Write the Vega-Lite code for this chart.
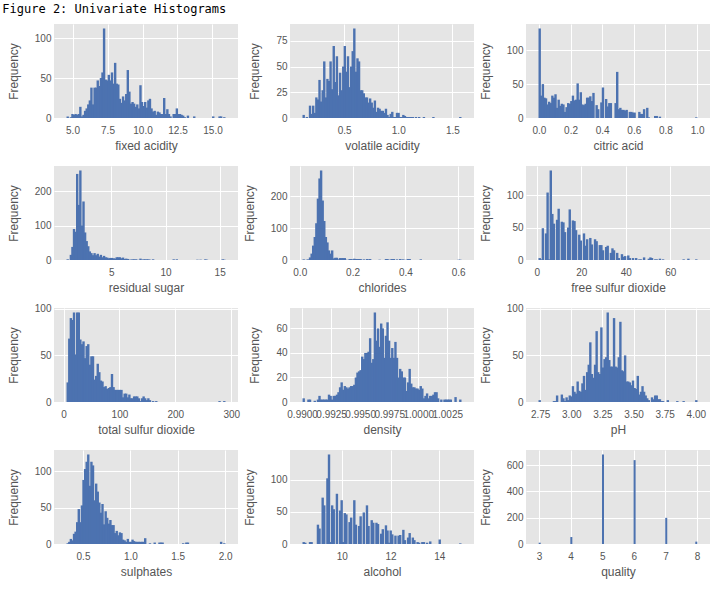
{
"$schema": "https://vega.github.io/schema/vega-lite/v6.json",
"title": {"text": "Figure 2: Univariate Histograms", "anchor": "start", "font": "DejaVu Sans Mono", "fontSize": 12, "fontWeight": "normal", "color": "#000000", "offset": 8, "dx": -5},
"padding": {"left": 2, "top": 3, "right": 5, "bottom": 5},
"columns": 3,
"spacing": {"row": 48, "column": 52},
"bounds": "flush",
"datasets": {
"fa": [{"x":4.657,"n":2},{"x":4.883,"n":1},{"x":4.996,"n":5},{"x":5.109,"n":4},{"x":5.222,"n":5},{"x":5.335,"n":4},{"x":5.448,"n":5},{"x":5.561,"n":14},{"x":5.674,"n":2},{"x":5.787,"n":4},{"x":5.900,"n":9},{"x":6.013,"n":12},{"x":6.126,"n":17},{"x":6.239,"n":22},{"x":6.352,"n":38},{"x":6.465,"n":17},{"x":6.578,"n":38},{"x":6.691,"n":38},{"x":6.804,"n":47},{"x":6.917,"n":40},{"x":7.030,"n":50},{"x":7.143,"n":57},{"x":7.256,"n":112},{"x":7.369,"n":48},{"x":7.482,"n":47},{"x":7.595,"n":54},{"x":7.708,"n":47},{"x":7.821,"n":57},{"x":7.934,"n":43},{"x":8.047,"n":69},{"x":8.160,"n":43},{"x":8.273,"n":42},{"x":8.386,"n":24},{"x":8.499,"n":19},{"x":8.612,"n":27},{"x":8.725,"n":22},{"x":8.838,"n":30},{"x":8.951,"n":60},{"x":9.064,"n":33},{"x":9.177,"n":18},{"x":9.290,"n":20},{"x":9.403,"n":18},{"x":9.516,"n":14},{"x":9.629,"n":17},{"x":9.742,"n":12},{"x":9.855,"n":41},{"x":9.968,"n":20},{"x":10.081,"n":15},{"x":10.194,"n":20},{"x":10.307,"n":13},{"x":10.420,"n":22},{"x":10.533,"n":24},{"x":10.646,"n":12},{"x":10.759,"n":8},{"x":10.872,"n":9},{"x":10.985,"n":4},{"x":11.098,"n":8},{"x":11.211,"n":7},{"x":11.324,"n":5},{"x":11.437,"n":5},{"x":11.550,"n":25},{"x":11.663,"n":5},{"x":11.776,"n":11},{"x":11.889,"n":5},{"x":12.002,"n":2},{"x":12.228,"n":5},{"x":12.341,"n":5},{"x":12.454,"n":12},{"x":12.567,"n":5},{"x":12.680,"n":5},{"x":12.793,"n":4},{"x":12.906,"n":3},{"x":13.019,"n":1},{"x":13.245,"n":3},{"x":13.697,"n":2},{"x":15.053,"n":2},{"x":15.505,"n":2},{"x":15.618,"n":2},{"x":15.844,"n":1}],
"va": [{"x":0.1273,"n":3},{"x":0.1565,"n":1},{"x":0.1857,"n":12},{"x":0.2003,"n":4},{"x":0.2149,"n":12},{"x":0.2295,"n":5},{"x":0.2441,"n":20},{"x":0.2587,"n":18},{"x":0.2733,"n":37},{"x":0.2879,"n":16},{"x":0.3025,"n":27},{"x":0.3171,"n":55},{"x":0.3317,"n":20},{"x":0.3463,"n":38},{"x":0.3609,"n":36},{"x":0.3755,"n":55},{"x":0.3901,"n":28},{"x":0.4047,"n":70},{"x":0.4193,"n":35},{"x":0.4339,"n":60},{"x":0.4485,"n":22},{"x":0.4631,"n":44},{"x":0.4777,"n":27},{"x":0.4923,"n":50},{"x":0.5069,"n":70},{"x":0.5215,"n":45},{"x":0.5361,"n":60},{"x":0.5507,"n":30},{"x":0.5653,"n":50},{"x":0.5799,"n":65},{"x":0.5945,"n":87},{"x":0.6091,"n":45},{"x":0.6237,"n":58},{"x":0.6383,"n":55},{"x":0.6529,"n":27},{"x":0.6675,"n":27},{"x":0.6821,"n":24},{"x":0.6967,"n":20},{"x":0.7113,"n":20},{"x":0.7259,"n":15},{"x":0.7405,"n":19},{"x":0.7551,"n":15},{"x":0.7697,"n":10},{"x":0.7843,"n":17},{"x":0.7989,"n":6},{"x":0.8135,"n":10},{"x":0.8281,"n":9},{"x":0.8427,"n":7},{"x":0.8573,"n":7},{"x":0.8719,"n":5},{"x":0.8865,"n":9},{"x":0.9011,"n":3},{"x":0.9157,"n":1},{"x":0.9303,"n":4},{"x":0.9449,"n":6},{"x":0.9595,"n":1},{"x":0.9741,"n":1},{"x":0.9887,"n":5},{"x":1.0033,"n":5},{"x":1.0179,"n":1},{"x":1.0325,"n":1},{"x":1.0471,"n":3},{"x":1.0617,"n":2},{"x":1.0763,"n":1},{"x":1.0909,"n":1},{"x":1.1055,"n":1},{"x":1.1201,"n":1},{"x":1.1347,"n":1},{"x":1.1639,"n":1},{"x":1.1931,"n":1},{"x":1.2369,"n":1},{"x":1.3245,"n":1},{"x":1.5727,"n":1}],
"ca": [{"x":0.005,"n":132},{"x":0.015,"n":33},{"x":0.025,"n":50},{"x":0.035,"n":30},{"x":0.045,"n":29},{"x":0.055,"n":20},{"x":0.065,"n":24},{"x":0.075,"n":22},{"x":0.085,"n":33},{"x":0.095,"n":30},{"x":0.105,"n":35},{"x":0.115,"n":15},{"x":0.125,"n":27},{"x":0.135,"n":18},{"x":0.145,"n":21},{"x":0.155,"n":20},{"x":0.165,"n":9},{"x":0.175,"n":16},{"x":0.185,"n":22},{"x":0.195,"n":21},{"x":0.205,"n":25},{"x":0.215,"n":33},{"x":0.225,"n":26},{"x":0.235,"n":27},{"x":0.245,"n":51},{"x":0.255,"n":27},{"x":0.265,"n":38},{"x":0.275,"n":20},{"x":0.285,"n":19},{"x":0.295,"n":21},{"x":0.305,"n":30},{"x":0.315,"n":30},{"x":0.325,"n":32},{"x":0.335,"n":25},{"x":0.345,"n":37},{"x":0.365,"n":19},{"x":0.375,"n":13},{"x":0.395,"n":23},{"x":0.405,"n":45},{"x":0.425,"n":28},{"x":0.435,"n":17},{"x":0.445,"n":22},{"x":0.455,"n":22},{"x":0.485,"n":22},{"x":0.495,"n":68},{"x":0.505,"n":13},{"x":0.515,"n":15},{"x":0.525,"n":12},{"x":0.535,"n":12},{"x":0.545,"n":11},{"x":0.555,"n":12},{"x":0.575,"n":9},{"x":0.585,"n":9},{"x":0.595,"n":8},{"x":0.605,"n":8},{"x":0.635,"n":9},{"x":0.645,"n":6},{"x":0.655,"n":6},{"x":0.665,"n":13},{"x":0.685,"n":15},{"x":0.695,"n":1},{"x":0.735,"n":3},{"x":0.745,"n":3},{"x":0.765,"n":2},{"x":0.995,"n":1}],
"rs": [{"x":0.973,"n":2},{"x":1.265,"n":15},{"x":1.411,"n":38},{"x":1.557,"n":90},{"x":1.703,"n":82},{"x":1.849,"n":250},{"x":1.995,"n":160},{"x":2.141,"n":260},{"x":2.287,"n":100},{"x":2.433,"n":170},{"x":2.579,"n":80},{"x":2.725,"n":55},{"x":2.871,"n":40},{"x":3.017,"n":25},{"x":3.163,"n":20},{"x":3.309,"n":14},{"x":3.455,"n":20},{"x":3.601,"n":14},{"x":3.747,"n":18},{"x":3.893,"n":10},{"x":4.039,"n":15},{"x":4.185,"n":8},{"x":4.331,"n":12},{"x":4.477,"n":8},{"x":4.623,"n":7},{"x":4.769,"n":5},{"x":4.915,"n":6},{"x":5.061,"n":6},{"x":5.207,"n":5},{"x":5.353,"n":4},{"x":5.499,"n":8},{"x":5.645,"n":8},{"x":5.791,"n":8},{"x":5.937,"n":5},{"x":6.083,"n":7},{"x":6.229,"n":3},{"x":6.375,"n":4},{"x":6.521,"n":3},{"x":6.667,"n":1},{"x":6.813,"n":1},{"x":6.959,"n":2},{"x":7.105,"n":2},{"x":7.251,"n":2},{"x":7.397,"n":1},{"x":7.689,"n":4},{"x":7.835,"n":1},{"x":7.981,"n":2},{"x":8.127,"n":2},{"x":8.273,"n":2},{"x":8.419,"n":2},{"x":8.565,"n":1},{"x":8.857,"n":2},{"x":10.755,"n":2},{"x":11.047,"n":2},{"x":12.945,"n":1},{"x":13.237,"n":1},{"x":13.675,"n":2},{"x":13.821,"n":1},{"x":15.281,"n":2},{"x":15.427,"n":1}],
"ch": [{"x":0.0150,"n":2},{"x":0.0270,"n":1},{"x":0.0330,"n":2},{"x":0.0390,"n":8},{"x":0.0450,"n":20},{"x":0.0509,"n":45},{"x":0.0569,"n":72},{"x":0.0629,"n":115},{"x":0.0689,"n":192},{"x":0.0749,"n":255},{"x":0.0809,"n":280},{"x":0.0869,"n":186},{"x":0.0929,"n":122},{"x":0.0989,"n":72},{"x":0.1049,"n":55},{"x":0.1108,"n":30},{"x":0.1168,"n":20},{"x":0.1228,"n":30},{"x":0.1288,"n":5},{"x":0.1348,"n":7},{"x":0.1408,"n":7},{"x":0.1468,"n":2},{"x":0.1528,"n":6},{"x":0.1588,"n":6},{"x":0.1648,"n":6},{"x":0.1707,"n":6},{"x":0.1767,"n":1},{"x":0.1887,"n":3},{"x":0.1947,"n":3},{"x":0.2007,"n":2},{"x":0.2067,"n":4},{"x":0.2127,"n":3},{"x":0.2187,"n":3},{"x":0.2247,"n":3},{"x":0.2306,"n":3},{"x":0.2426,"n":2},{"x":0.2546,"n":3},{"x":0.2606,"n":2},{"x":0.2666,"n":3},{"x":0.3025,"n":1},{"x":0.3265,"n":3},{"x":0.3325,"n":3},{"x":0.3444,"n":2},{"x":0.3504,"n":3},{"x":0.3564,"n":3},{"x":0.3684,"n":2},{"x":0.3804,"n":3},{"x":0.3864,"n":1},{"x":0.3924,"n":2},{"x":0.4043,"n":1},{"x":0.4103,"n":3},{"x":0.4163,"n":3},{"x":0.4583,"n":2},{"x":0.6020,"n":1},{"x":0.6080,"n":1}],
"fs": [{"x":1.355,"n":3},{"x":2.065,"n":1},{"x":2.775,"n":49},{"x":4.195,"n":41},{"x":4.905,"n":104},{"x":5.615,"n":1},{"x":6.325,"n":138},{"x":7.035,"n":71},{"x":7.745,"n":56},{"x":9.165,"n":62},{"x":9.875,"n":79},{"x":11.295,"n":59},{"x":12.005,"n":58},{"x":12.715,"n":43},{"x":14.135,"n":50},{"x":14.845,"n":78},{"x":16.265,"n":61},{"x":16.975,"n":60},{"x":17.685,"n":46},{"x":19.105,"n":39},{"x":19.815,"n":30},{"x":21.235,"n":41},{"x":21.945,"n":22},{"x":22.655,"n":32},{"x":24.075,"n":34},{"x":24.785,"n":24},{"x":26.205,"n":32},{"x":26.915,"n":29},{"x":28.335,"n":23},{"x":29.045,"n":23},{"x":29.755,"n":15},{"x":31.175,"n":20},{"x":31.885,"n":22},{"x":33.305,"n":11},{"x":34.015,"n":18},{"x":34.725,"n":15},{"x":36.145,"n":11},{"x":36.855,"n":3},{"x":38.275,"n":9},{"x":38.985,"n":5},{"x":39.695,"n":6},{"x":41.115,"n":7},{"x":41.825,"n":3},{"x":43.245,"n":3},{"x":44.665,"n":3},{"x":46.085,"n":1},{"x":46.795,"n":1},{"x":48.215,"n":4},{"x":50.345,"n":2},{"x":51.055,"n":4},{"x":51.765,"n":3},{"x":53.185,"n":1},{"x":53.895,"n":1},{"x":55.315,"n":2},{"x":56.735,"n":1},{"x":65.965,"n":1},{"x":68.095,"n":2},{"x":71.645,"n":1}],
"ts": [{"x":7.415,"n":21},{"x":10.245,"n":68},{"x":13.075,"n":90},{"x":15.905,"n":88},{"x":18.735,"n":96},{"x":21.565,"n":51},{"x":24.395,"n":96},{"x":27.225,"n":96},{"x":30.055,"n":67},{"x":32.885,"n":62},{"x":35.715,"n":65},{"x":38.545,"n":47},{"x":41.375,"n":60},{"x":44.205,"n":62},{"x":47.035,"n":40},{"x":49.865,"n":49},{"x":52.695,"n":49},{"x":55.525,"n":24},{"x":58.355,"n":28},{"x":61.185,"n":41},{"x":64.015,"n":32},{"x":66.845,"n":23},{"x":69.675,"n":22},{"x":72.505,"n":16},{"x":75.335,"n":17},{"x":78.165,"n":14},{"x":80.995,"n":15},{"x":83.825,"n":16},{"x":86.655,"n":30},{"x":89.485,"n":16},{"x":92.315,"n":13},{"x":95.145,"n":13},{"x":97.975,"n":13},{"x":100.805,"n":13},{"x":103.635,"n":13},{"x":106.465,"n":5},{"x":109.295,"n":9},{"x":112.125,"n":9},{"x":114.955,"n":5},{"x":117.785,"n":8},{"x":120.615,"n":4},{"x":123.445,"n":4},{"x":126.275,"n":6},{"x":129.105,"n":6},{"x":131.935,"n":6},{"x":134.765,"n":4},{"x":137.595,"n":1},{"x":140.425,"n":4},{"x":143.255,"n":6},{"x":146.085,"n":4},{"x":148.915,"n":2},{"x":151.745,"n":4},{"x":154.575,"n":2},{"x":160.235,"n":1},{"x":165.895,"n":1},{"x":279.095,"n":1},{"x":287.585,"n":1}],
"de": [{"x":0.990138,"n":3},{"x":0.990547,"n":2},{"x":0.990683,"n":2},{"x":0.991091,"n":1},{"x":0.991364,"n":2},{"x":0.991500,"n":5},{"x":0.991636,"n":2},{"x":0.991772,"n":2},{"x":0.991909,"n":2},{"x":0.992045,"n":2},{"x":0.992181,"n":2},{"x":0.992317,"n":6},{"x":0.992454,"n":5},{"x":0.992590,"n":2},{"x":0.992726,"n":5},{"x":0.992862,"n":5},{"x":0.992998,"n":6},{"x":0.993135,"n":8},{"x":0.993271,"n":12},{"x":0.993407,"n":16},{"x":0.993543,"n":10},{"x":0.993680,"n":13},{"x":0.993816,"n":12},{"x":0.993952,"n":11},{"x":0.994088,"n":12},{"x":0.994224,"n":13},{"x":0.994361,"n":13},{"x":0.994497,"n":14},{"x":0.994633,"n":20},{"x":0.994769,"n":24},{"x":0.994905,"n":25},{"x":0.995042,"n":26},{"x":0.995178,"n":37},{"x":0.995314,"n":35},{"x":0.995450,"n":40},{"x":0.995586,"n":40},{"x":0.995723,"n":41},{"x":0.995859,"n":52},{"x":0.995995,"n":32},{"x":0.996131,"n":35},{"x":0.996267,"n":73},{"x":0.996404,"n":50},{"x":0.996540,"n":60},{"x":0.996676,"n":45},{"x":0.996812,"n":64},{"x":0.996948,"n":60},{"x":0.997085,"n":36},{"x":0.997221,"n":54},{"x":0.997357,"n":65},{"x":0.997493,"n":50},{"x":0.997629,"n":36},{"x":0.997766,"n":44},{"x":0.997902,"n":36},{"x":0.998038,"n":49},{"x":0.998174,"n":36},{"x":0.998310,"n":20},{"x":0.998447,"n":27},{"x":0.998583,"n":25},{"x":0.998719,"n":20},{"x":0.998855,"n":20},{"x":0.998991,"n":9},{"x":0.999128,"n":16},{"x":0.999264,"n":27},{"x":0.999400,"n":15},{"x":0.999536,"n":12},{"x":0.999672,"n":12},{"x":0.999809,"n":11},{"x":0.999945,"n":11},{"x":1.000081,"n":10},{"x":1.000217,"n":13},{"x":1.000353,"n":11},{"x":1.000490,"n":3},{"x":1.000626,"n":5},{"x":1.000762,"n":7},{"x":1.000898,"n":3},{"x":1.001034,"n":5},{"x":1.001171,"n":5},{"x":1.001307,"n":6},{"x":1.001443,"n":8},{"x":1.001579,"n":8},{"x":1.001715,"n":3},{"x":1.001988,"n":2},{"x":1.002260,"n":2},{"x":1.002396,"n":2},{"x":1.002533,"n":2},{"x":1.002669,"n":2},{"x":1.002805,"n":2},{"x":1.003214,"n":4},{"x":1.003622,"n":2}],
"ph": [{"x":2.7464,"n":2},{"x":2.8607,"n":1},{"x":2.8734,"n":1},{"x":2.8861,"n":7},{"x":2.9242,"n":8},{"x":2.9369,"n":4},{"x":2.9496,"n":1},{"x":2.9623,"n":5},{"x":2.9750,"n":2},{"x":2.9877,"n":7},{"x":3.0004,"n":6},{"x":3.0131,"n":17},{"x":3.0258,"n":11},{"x":3.0385,"n":9},{"x":3.0512,"n":22},{"x":3.0639,"n":12},{"x":3.0766,"n":11},{"x":3.0893,"n":20},{"x":3.1020,"n":28},{"x":3.1147,"n":13},{"x":3.1274,"n":32},{"x":3.1401,"n":40},{"x":3.1528,"n":64},{"x":3.1655,"n":30},{"x":3.1782,"n":26},{"x":3.1909,"n":40},{"x":3.2036,"n":76},{"x":3.2163,"n":32},{"x":3.2290,"n":30},{"x":3.2417,"n":80},{"x":3.2544,"n":37},{"x":3.2671,"n":46},{"x":3.2798,"n":48},{"x":3.2925,"n":96},{"x":3.3052,"n":45},{"x":3.3179,"n":38},{"x":3.3306,"n":38},{"x":3.3433,"n":90},{"x":3.3560,"n":38},{"x":3.3687,"n":37},{"x":3.3814,"n":48},{"x":3.3941,"n":86},{"x":3.4068,"n":34},{"x":3.4195,"n":33},{"x":3.4322,"n":50},{"x":3.4449,"n":22},{"x":3.4576,"n":22},{"x":3.4703,"n":21},{"x":3.4830,"n":18},{"x":3.4957,"n":23},{"x":3.5084,"n":15},{"x":3.5211,"n":14},{"x":3.5338,"n":28},{"x":3.5465,"n":8},{"x":3.5592,"n":11},{"x":3.5719,"n":17},{"x":3.5846,"n":11},{"x":3.5973,"n":7},{"x":3.6100,"n":4},{"x":3.6227,"n":2},{"x":3.6481,"n":5},{"x":3.6608,"n":3},{"x":3.6735,"n":7},{"x":3.6862,"n":7},{"x":3.6989,"n":3},{"x":3.7116,"n":3},{"x":3.7243,"n":1},{"x":3.7370,"n":1},{"x":3.7751,"n":2},{"x":3.8513,"n":1},{"x":3.9021,"n":1},{"x":4.0037,"n":2}],
"su": [{"x":0.3384,"n":1},{"x":0.3551,"n":3},{"x":0.3718,"n":7},{"x":0.3885,"n":5},{"x":0.4052,"n":14},{"x":0.4219,"n":17},{"x":0.4386,"n":30},{"x":0.4553,"n":48},{"x":0.4720,"n":30},{"x":0.4887,"n":53},{"x":0.5054,"n":88},{"x":0.5221,"n":103},{"x":0.5388,"n":113},{"x":0.5555,"n":123},{"x":0.5722,"n":80},{"x":0.5889,"n":113},{"x":0.6056,"n":108},{"x":0.6223,"n":60},{"x":0.6390,"n":83},{"x":0.6557,"n":72},{"x":0.6724,"n":57},{"x":0.6891,"n":43},{"x":0.7058,"n":55},{"x":0.7225,"n":27},{"x":0.7392,"n":45},{"x":0.7559,"n":36},{"x":0.7726,"n":28},{"x":0.7893,"n":33},{"x":0.8060,"n":26},{"x":0.8227,"n":26},{"x":0.8394,"n":15},{"x":0.8561,"n":18},{"x":0.8728,"n":12},{"x":0.8895,"n":16},{"x":0.9062,"n":15},{"x":0.9229,"n":6},{"x":0.9396,"n":5},{"x":0.9563,"n":3},{"x":0.9730,"n":7},{"x":0.9897,"n":3},{"x":1.0064,"n":3},{"x":1.0231,"n":6},{"x":1.0398,"n":4},{"x":1.0565,"n":3},{"x":1.0732,"n":3},{"x":1.0899,"n":3},{"x":1.1066,"n":3},{"x":1.1233,"n":3},{"x":1.1400,"n":3},{"x":1.1567,"n":8},{"x":1.2068,"n":1},{"x":1.2569,"n":2},{"x":1.3070,"n":2},{"x":1.3237,"n":2},{"x":1.3404,"n":2},{"x":1.5575,"n":1},{"x":1.5909,"n":2},{"x":1.6076,"n":2},{"x":1.9583,"n":3},{"x":1.9917,"n":1}],
"al": [{"x":8.4325,"n":3},{"x":8.4975,"n":2},{"x":8.6925,"n":3},{"x":8.7575,"n":3},{"x":9.0175,"n":30},{"x":9.0825,"n":24},{"x":9.2125,"n":72},{"x":9.2775,"n":60},{"x":9.4075,"n":102},{"x":9.4725,"n":139},{"x":9.5375,"n":3},{"x":9.6025,"n":60},{"x":9.6675,"n":54},{"x":9.7975,"n":78},{"x":9.9275,"n":52},{"x":9.9925,"n":68},{"x":10.0575,"n":3},{"x":10.1225,"n":48},{"x":10.1875,"n":46},{"x":10.3175,"n":34},{"x":10.3825,"n":41},{"x":10.5125,"n":68},{"x":10.5775,"n":30},{"x":10.7075,"n":28},{"x":10.7725,"n":43},{"x":10.9025,"n":49},{"x":11.0325,"n":60},{"x":11.0975,"n":28},{"x":11.2275,"n":37},{"x":11.2925,"n":33},{"x":11.4225,"n":33},{"x":11.4875,"n":31},{"x":11.6175,"n":16},{"x":11.6825,"n":23},{"x":11.8125,"n":29},{"x":11.8775,"n":21},{"x":11.9425,"n":2},{"x":12.0075,"n":21},{"x":12.0725,"n":15},{"x":12.2025,"n":13},{"x":12.3325,"n":13},{"x":12.3975,"n":14},{"x":12.5275,"n":22},{"x":12.5925,"n":6},{"x":12.7225,"n":10},{"x":12.7875,"n":17},{"x":12.9175,"n":10},{"x":12.9825,"n":6},{"x":13.1125,"n":3},{"x":13.1775,"n":2},{"x":13.3075,"n":3},{"x":13.3725,"n":3},{"x":13.5025,"n":2},{"x":13.6325,"n":4},{"x":14.0225,"n":7},{"x":14.8675,"n":1}],
"qu": [{"x":3.025,"n":10},{"x":4.025,"n":53},{"x":5.025,"n":681},{"x":6.025,"n":638},{"x":7.025,"n":199},{"x":7.975,"n":18}]
},
"concat": [
{"width":184,"height":94,"data":{"name":"fa"},"mark":{"type":"bar","width":2.4,"orient":"vertical"},"encoding":{"x":{"field":"x","type":"quantitative","scale":{"domain":[4.035,16.465],"nice":false,"zero":false},"axis":{"title":"fixed acidity","values":[5,7.5,10,12.5,15],"format":".1f"}},"y":{"field":"n","type":"quantitative","scale":{"domain":[0,117.6],"nice":false},"axis":{"title":"Frequency","values":[0,50,100],"format":"d"}}}},
{"width":184,"height":94,"data":{"name":"va"},"mark":{"type":"bar","width":2.4,"orient":"vertical"},"encoding":{"x":{"field":"x","type":"quantitative","scale":{"domain":[0.047,1.653],"nice":false,"zero":false},"axis":{"title":"volatile acidity","values":[0.5,1.0,1.5],"format":".1f"}},"y":{"field":"n","type":"quantitative","scale":{"domain":[0,91.35],"nice":false},"axis":{"title":"Frequency","values":[0,25,50,75],"format":"d"}}}},
{"width":184,"height":94,"data":{"name":"ca"},"mark":{"type":"bar","width":2.4,"orient":"vertical"},"encoding":{"x":{"field":"x","type":"quantitative","scale":{"domain":[-0.05,1.05],"nice":false,"zero":false},"axis":{"title":"citric acid","values":[0,0.2,0.4,0.6,0.8,1.0],"format":".1f"}},"y":{"field":"n","type":"quantitative","scale":{"domain":[0,138.6],"nice":false},"axis":{"title":"Frequency","values":[0,50,100],"format":"d"}}}},
{"width":184,"height":94,"data":{"name":"rs"},"mark":{"type":"bar","width":2.4,"orient":"vertical"},"encoding":{"x":{"field":"x","type":"quantitative","scale":{"domain":[0.17,16.23],"nice":false,"zero":false},"axis":{"title":"residual sugar","values":[5,10,15],"format":"d"}},"y":{"field":"n","type":"quantitative","scale":{"domain":[0,273],"nice":false},"axis":{"title":"Frequency","values":[0,100,200],"format":"d"}}}},
{"width":184,"height":94,"data":{"name":"ch"},"mark":{"type":"bar","width":2.4,"orient":"vertical"},"encoding":{"x":{"field":"x","type":"quantitative","scale":{"domain":[-0.018,0.641],"nice":false,"zero":false},"axis":{"title":"chlorides","values":[0,0.2,0.4,0.6],"format":".1f"}},"y":{"field":"n","type":"quantitative","scale":{"domain":[0,294],"nice":false},"axis":{"title":"Frequency","values":[0,100,200],"format":"d"}}}},
{"width":184,"height":94,"data":{"name":"fs"},"mark":{"type":"bar","width":2.4,"orient":"vertical"},"encoding":{"x":{"field":"x","type":"quantitative","scale":{"domain":[-2.55,75.55],"nice":false,"zero":false},"axis":{"title":"free sulfur dioxide","values":[0,20,40,60],"format":"d"}},"y":{"field":"n","type":"quantitative","scale":{"domain":[0,144.9],"nice":false},"axis":{"title":"Frequency","values":[0,50,100],"format":"d"}}}},
{"width":184,"height":94,"data":{"name":"ts"},"mark":{"type":"bar","width":2.4,"orient":"vertical"},"encoding":{"x":{"field":"x","type":"quantitative","scale":{"domain":[-8.15,303.15],"nice":false,"zero":false},"axis":{"title":"total sulfur dioxide","values":[0,100,200,300],"format":"d"}},"y":{"field":"n","type":"quantitative","scale":{"domain":[0,100.8],"nice":false},"axis":{"title":"Frequency","values":[0,50,100],"format":"d"}}}},
{"width":184,"height":94,"data":{"name":"de"},"mark":{"type":"bar","width":2.4,"orient":"vertical"},"encoding":{"x":{"field":"x","type":"quantitative","scale":{"domain":[0.989389,1.004371],"nice":false,"zero":false},"axis":{"title":"density","values":[0.99,0.9925,0.995,0.9975,1.0,1.0025],"format":".4f"}},"y":{"field":"n","type":"quantitative","scale":{"domain":[0,76.65],"nice":false},"axis":{"title":"Frequency","values":[0,20,40,60],"format":"d"}}}},
{"width":184,"height":94,"data":{"name":"ph"},"mark":{"type":"bar","width":2.4,"orient":"vertical"},"encoding":{"x":{"field":"x","type":"quantitative","scale":{"domain":[2.6765,4.0735],"nice":false,"zero":false},"axis":{"title":"pH","values":[2.75,3.0,3.25,3.5,3.75,4.0],"format":".2f"}},"y":{"field":"n","type":"quantitative","scale":{"domain":[0,100.8],"nice":false},"axis":{"title":"Frequency","values":[0,50,100],"format":"d"}}}},
{"width":184,"height":94,"data":{"name":"su"},"mark":{"type":"bar","width":2.4,"orient":"vertical"},"encoding":{"x":{"field":"x","type":"quantitative","scale":{"domain":[0.2465,2.0835],"nice":false,"zero":false},"axis":{"title":"sulphates","values":[0.5,1.0,1.5,2.0],"format":".1f"}},"y":{"field":"n","type":"quantitative","scale":{"domain":[0,129.15],"nice":false},"axis":{"title":"Frequency","values":[0,50,100],"format":"d"}}}},
{"width":184,"height":94,"data":{"name":"al"},"mark":{"type":"bar","width":2.4,"orient":"vertical"},"encoding":{"x":{"field":"x","type":"quantitative","scale":{"domain":[8.075,15.225],"nice":false,"zero":false},"axis":{"title":"alcohol","values":[10,12,14],"format":"d"}},"y":{"field":"n","type":"quantitative","scale":{"domain":[0,145.95],"nice":false},"axis":{"title":"Frequency","values":[0,50,100],"format":"d"}}}},
{"width":184,"height":94,"data":{"name":"qu"},"mark":{"type":"bar","width":2,"orient":"vertical"},"encoding":{"x":{"field":"x","type":"quantitative","scale":{"domain":[2.75,8.25],"nice":false,"zero":false},"axis":{"title":"quality","values":[3,4,5,6,7,8],"format":"d"}},"y":{"field":"n","type":"quantitative","scale":{"domain":[0,715],"nice":false},"axis":{"title":"Frequency","values":[0,200,400,600],"format":"d"}}}}
],
"config": {
"background": "#FFFFFF",
"view": {"fill": "#E5E5E5", "stroke": null},
"bar": {"color": "#4C72B0"},
"axis": {"grid": true, "gridColor": "#FFFFFF", "gridWidth": 1, "gridOpacity": 1, "domain": false, "ticks": false, "labelColor": "#555555", "labelFont": "Liberation Sans", "labelFontSize": 10, "labelOverlap": false, "labelFlush": false, "labelBound": false, "titleFont": "Liberation Sans", "titleFontSize": 12, "titleColor": "#555555", "titleFontWeight": "normal"},
"axisX": {"labelPadding": 7, "titlePadding": 5},
"axisY": {"labelPadding": 3, "titlePadding": 14}
}
}
